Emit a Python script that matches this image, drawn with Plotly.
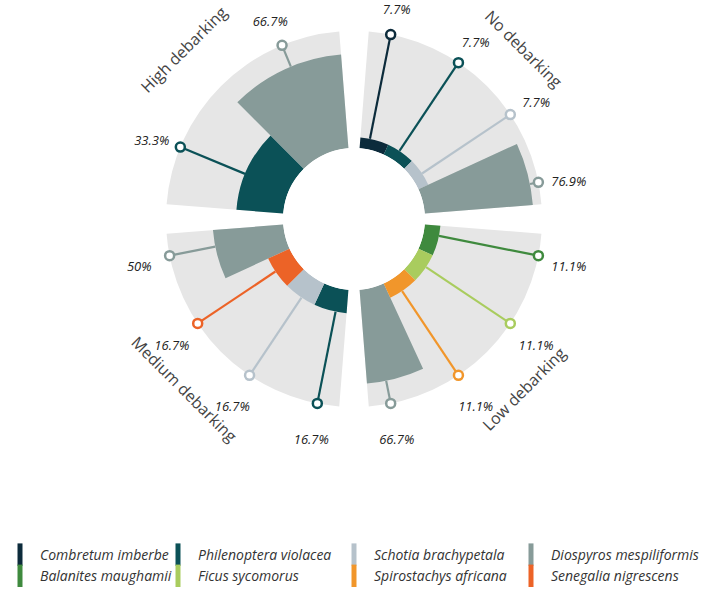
import math
import plotly.graph_objects as go

# ---------------- data ----------------
groups = ["No debarking", "Low debarking", "Medium debarking", "High debarking"]
group_start = [0, 90, 180, 270]  # degrees clockwise from north

no_species = ["Combretum imberbe", "Philenoptera violacea", "Schotia brachypetala", "Diospyros mespiliformis"]
no_values = [7.7, 7.7, 7.7, 76.9]

low_species = ["Balanites maughamii", "Ficus sycomorus", "Spirostachys africana", "Diospyros mespiliformis"]
low_values = [11.1, 11.1, 11.1, 66.7]

medium_species = ["Philenoptera violacea", "Schotia brachypetala", "Senegalia nigrescens", "Diospyros mespiliformis"]
medium_values = [16.7, 16.7, 16.7, 50]

high_species = ["Philenoptera violacea", "Diospyros mespiliformis"]
high_values = [33.3, 66.7]

legend_order = ["Combretum imberbe", "Philenoptera violacea", "Schotia brachypetala",
                "Diospyros mespiliformis", "Balanites maughamii", "Ficus sycomorus",
                "Spirostachys africana", "Senegalia nigrescens"]

colors = {
    "Combretum imberbe": "#0c2b3b",
    "Philenoptera violacea": "#0b5157",
    "Schotia brachypetala": "#b6c2cb",
    "Diospyros mespiliformis": "#879b99",
    "Balanites maughamii": "#3f8a3e",
    "Ficus sycomorus": "#a9cc5e",
    "Spirostachys africana": "#f1962b",
    "Senegalia nigrescens": "#ec6327",
}

group_species = [no_species, low_species, medium_species, high_species]
group_values = [no_values, low_values, medium_values, high_values]

# ---------------- layout constants ----------------
PAD = 4.5            # angular padding each side of a group
R_MAX = 105          # radial axis max
R_BG = 83            # background wedge / lollipop end
R_LABEL = 105        # percentage label radius
BG = "#e6e6e6"

fig = go.Figure()

# background wedges
fig.add_trace(go.Barpolar(
    r=[R_BG] * 4,
    theta=[g + 45 for g in group_start],
    width=[90 - 2 * PAD] * 4,
    marker=dict(color=BG, line=dict(width=0)),
    showlegend=False, hoverinfo="skip",
))

bars = {s: dict(r=[], theta=[], width=[]) for s in legend_order}
lolli = {s: dict(r=[], theta=[]) for s in legend_order}
mark = {s: dict(r=[], theta=[]) for s in legend_order}
lab_r, lab_t, lab_txt = [], [], []

for g0, sp, vals in zip(group_start, group_species, group_values):
    n = len(sp)
    bw = (90 - 2 * PAD) / n
    for k, (s, v) in enumerate(zip(sp, vals)):
        bt = g0 + PAD + bw * (k + 0.5)
        lt = g0 + 90 / n * (k + 0.5)
        bars[s]["r"].append(v)
        bars[s]["theta"].append(bt)
        bars[s]["width"].append(bw)
        lolli[s]["r"] += [v, R_BG, None]
        lolli[s]["theta"] += [lt, lt, None]
        mark[s]["r"].append(R_BG)
        mark[s]["theta"].append(lt)
        lab_r.append(R_LABEL)
        lab_t.append(lt)
        lab_txt.append(f"{v:g}%")

for s in legend_order:
    fig.add_trace(go.Barpolar(
        r=bars[s]["r"], theta=bars[s]["theta"], width=bars[s]["width"],
        marker=dict(color=colors[s], line=dict(width=0)),
        showlegend=False, hoverinfo="skip", name=s,
    ))
for s in legend_order:
    fig.add_trace(go.Scatterpolar(
        r=lolli[s]["r"], theta=lolli[s]["theta"], mode="lines",
        line=dict(color=colors[s], width=2.2), showlegend=False, hoverinfo="skip",
    ))
for s in legend_order:
    fig.add_trace(go.Scatterpolar(
        r=mark[s]["r"], theta=mark[s]["theta"], mode="markers",
        marker=dict(symbol="circle", size=9, color="white",
                    line=dict(color=colors[s], width=2.5)),
        showlegend=False, hoverinfo="skip", cliponaxis=False,
    ))

# percentage labels
fig.add_trace(go.Scatterpolar(
    r=lab_r, theta=lab_t, mode="text", text=lab_txt, textposition="bottom center",
    textfont=dict(family="Open Sans", size=13, color="#222222", style="italic"),
    showlegend=False, hoverinfo="skip", cliponaxis=False,
))

# legend entries: 4 columns, each its own legend
legend_cols = ["legend", "legend2", "legend3", "legend4"]
for i, s in enumerate(legend_order):
    fig.add_trace(go.Scatterpolar(
        r=[None], theta=[None], mode="markers", name=s,
        legend=legend_cols[i % 4],
        marker=dict(symbol="line-ns", size=16, color=colors[s],
                    line=dict(color=colors[s], width=5)),
        hoverinfo="skip",
    ))

# geometry: figure 709x592, plot area above a bottom margin reserved for the legend
W, H = 709, 592
MB = 62
PH = H - MB
CX, CY, RAD = 354, 219, 219
HOLE_PX = 71
LEG_BOTTOM = 592            # px from top
LEG_X = [0, 158, 334, 511]  # px, left edge of each legend column
leg_font = dict(family="Open Sans", size=14, color="#333333", style="italic")

legend_layout = {}
for name, lx in zip(legend_cols, LEG_X):
    legend_layout[name] = dict(
        orientation="v", x=lx / W, xanchor="left",
        y=(PH - LEG_BOTTOM) / PH, yanchor="bottom",
        font=leg_font, tracegroupgap=0, itemclick=False, itemdoubleclick=False,
        bgcolor="rgba(0,0,0,0)",
    )

fig.update_layout(
    width=W, height=H, autosize=False,
    margin=dict(l=0, r=0, t=0, b=MB),
    paper_bgcolor="white", plot_bgcolor="white",
    polar=dict(
        domain=dict(x=[(CX - RAD) / W, (CX + RAD) / W],
                    y=[(PH - CY - RAD) / PH, (PH - CY + RAD) / PH]),
        hole=HOLE_PX / RAD,
        bgcolor="rgba(0,0,0,0)",
        bargap=0,
        radialaxis=dict(range=[0, R_MAX], visible=False, showgrid=False),
        angularaxis=dict(rotation=90, direction="clockwise", visible=False,
                         showgrid=False, showline=False, ticks=""),
    ),
    showlegend=True,
    **legend_layout,
)

# group labels (rotated text around the ring)
GL_R = 240
label_rot = [45, -45, 45, -45]
for name, g0, rot in zip(groups, group_start, label_rot):
    ang = math.radians(g0 + 45)
    px = CX + GL_R * math.sin(ang)
    py = CY - GL_R * math.cos(ang)
    fig.add_annotation(
        x=px / W, y=(PH - py) / PH, xref="paper", yref="paper",
        text=name, showarrow=False, textangle=rot,
        font=dict(family="Open Sans", size=16, color="#444444"),
        xanchor="center", yanchor="middle",
    )

fig.write_html("out.html")
